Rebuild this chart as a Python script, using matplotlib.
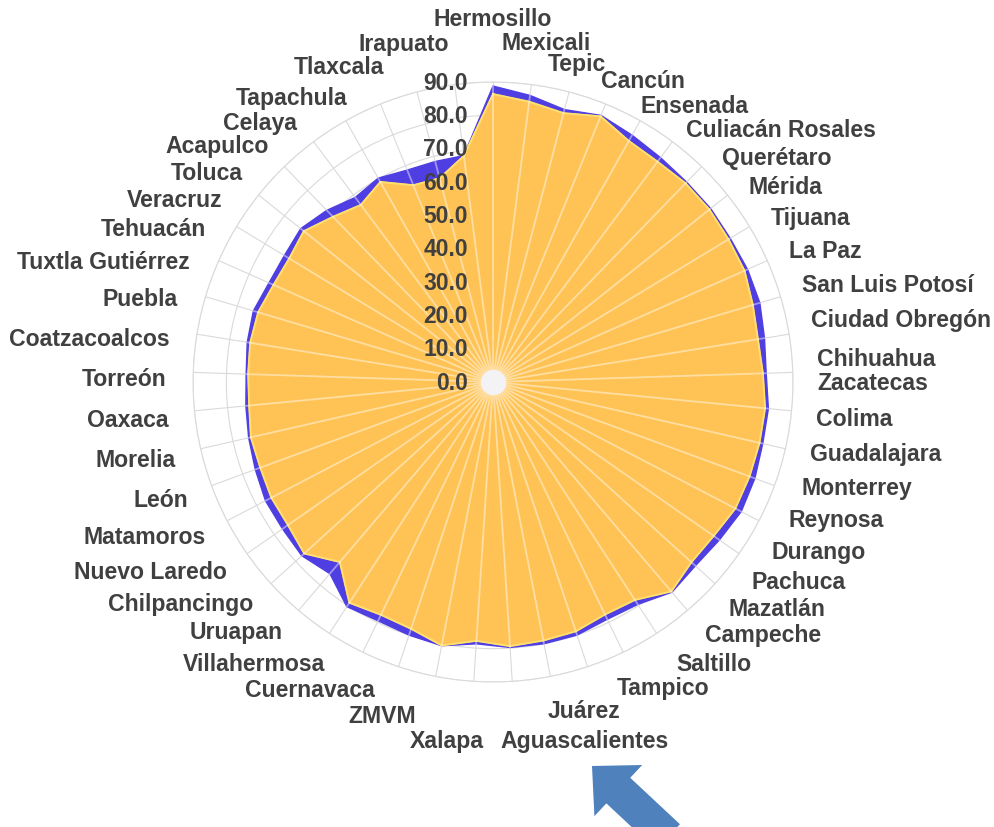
import numpy as np
import matplotlib.pyplot as plt
from matplotlib.patches import FancyArrow

plt.rcParams['font.family'] = ['Liberation Sans', 'DejaVu Sans']

# categorías en el sentido de las agujas del reloj, desde arriba
ciudades = [
    "Hermosillo", "Mexicali", "Tepic", "Cancún", "Ensenada", "Culiacán Rosales",
    "Querétaro", "Mérida", "Tijuana", "La Paz", "San Luis Potosí", "Ciudad Obregón",
    "Chihuahua", "Zacatecas", "Colima", "Guadalajara", "Monterrey", "Reynosa",
    "Durango", "Pachuca", "Mazatlán", "Campeche", "Saltillo", "Tampico", "Juárez",
    "Aguascalientes", "Xalapa", "ZMVM", "Cuernavaca", "Villahermosa", "Uruapan",
    "Chilpancingo", "Nuevo Laredo", "Matamoros", "León", "Morelia", "Oaxaca",
    "Torreón", "Coatzacoalcos", "Puebla", "Tuxtla Gutiérrez", "Tehuacán", "Veracruz",
    "Toluca", "Acapulco", "Celaya", "Tapachula", "Tlaxcala", "Irapuato",
]

# serie de atrás (azul)
serie_azul = [
    88.8, 86.7, 84.5, 86.3, 85.0, 84.0, 83.5, 83.5, 83.2, 83.5, 83.5, 82.5,
    82.0, 83.0, 83.0, 83.7, 84.0, 82.8, 82.0, 82.8, 79.6, 79.0, 80.0, 80.0,
    79.8, 78.7, 80.6, 80.0, 79.5, 80.4, 75.5, 77.5, 77.0, 77.0, 76.0, 75.2,
    74.5, 74.1, 74.7, 75.0, 73.5, 73.2, 73.8, 71.7, 69.1, 70.2, 68.6, 68.4,
    68.5,
]

# serie de adelante (amarilla)
serie_amarilla = [
    86.4, 84.8, 83.4, 86.0, 83.0, 82.5, 83.0, 83.0, 82.6, 82.5, 81.3, 80.5,
    81.0, 82.0, 82.0, 82.0, 82.0, 80.7, 80.4, 82.5, 78.0, 77.4, 78.8, 79.0,
    79.4, 77.8, 80.5, 78.0, 77.5, 79.0, 70.9, 76.5, 75.0, 75.0, 74.4, 74.5,
    73.5, 73.5, 73.8, 73.5, 72.0, 71.5, 72.6, 69.0, 66.3, 68.9, 63.7, 63.2,
    68.4,
]

escala = [0, 10, 20, 30, 40, 50, 60, 70, 80, 90]

GRIS = '#DADADA'
TEXTO = '#404040'
AZUL = '#4F3FE3'
AMARILLO = '#FFC355'

# anillo de etiquetas al estilo Excel: corrimiento angular y radio según el ángulo
anillo_ang = [0, 7.35, 14.7, 22, 29.4, 40, 55, 66, 80, 88, 95.5, 110, 125, 140,
              154, 162, 169, 176.3, 183.7, 191, 198.4, 205.7, 213, 220, 250, 290,
              301, 316, 330.6, 338, 345.3, 352.7, 360]
anillo_lag = [0, 6, 5, 2.4, 1.4, -1.5, -1, 0, 2, 2.2, 5.5, 7.4, 10, 12,
              14.3, 14.7, 11, 5.8, 4.8, 9.6, 5.4, 4.7, 2.2, 0.3, 0.8, 1.7,
              3, 6, 7.6, 5, 4.3, 0, 0]
radio_ang = [0, 7.35, 14.7, 22, 29.4, 40, 60, 150, 162, 169, 176.3, 183.7, 191,
             198.4, 205.7, 220, 330, 338, 345.3, 352.7, 360]
radio_val = [109, 102, 97, 96, 94, 96, 97, 98, 101, 99, 100, 107.7, 107.7,
             102.6, 98.7, 98, 97.8, 95.7, 100, 102.3, 109]

n = len(ciudades)
angulos = np.arange(n) * 2 * np.pi / n


def cerrar(v):
    v = np.asarray(v, dtype=float)
    return np.r_[v, v[:1]]


fig = plt.figure(figsize=(9.94, 8.28), dpi=100)
ax = fig.add_axes([0.1942, 0.1751, 0.6036, 0.7246], projection='polar')
ax.set_theta_zero_location('N')
ax.set_theta_direction(-1)
ax.set_ylim(0, max(escala))
ax.set_xticks(angulos)
ax.set_xticklabels([])
ax.set_yticks(escala)
ax.set_yticklabels([])
ax.grid(color=GRIS, linewidth=0.8)
ax.spines['polar'].set_color(GRIS)
ax.spines['polar'].set_linewidth(0.8)
ax.set_axisbelow(True)

th = cerrar(angulos)
ax.fill(th, cerrar(serie_azul), color=AZUL, zorder=2)
ax.fill(th, cerrar(serie_amarilla), color=AMARILLO, zorder=3)
ax.plot(th, cerrar(serie_amarilla), color='#FFDF6E', linewidth=1.4, zorder=4)

# radios claros encima de las áreas
for a, r in zip(angulos, serie_azul):
    ax.plot([a, a], [0, r], color='white', alpha=0.45, linewidth=1.3, zorder=5)
ax.fill_between(np.linspace(0, 2 * np.pi, 120), 0, 3.6, color='#F3F3F5', zorder=6)

# valores del eje
for v in escala:
    ax.annotate(f"{v:.1f}", xy=(0, v), xytext=(-25, 0), textcoords='offset pixels',
                ha='right', va='center', fontsize=16.5, fontweight='bold',
                color=TEXTO, zorder=7)

# etiquetas de categoría
grados = np.degrees(angulos)
retraso = np.interp(grados, anillo_ang, anillo_lag)
radios = np.interp(grados, radio_ang, radio_val)
for nombre, g, lag, r in zip(ciudades, grados, retraso, radios):
    pos = np.radians(g - lag)
    s = np.sin(pos)
    if abs(s) < 0.01:
        ha = 'center'
    elif s > 0:
        ha = 'left'
    else:
        ha = 'right'
    ax.text(pos, r, nombre, ha=ha, va='center', fontsize=16.6, fontweight='bold',
            color=TEXTO, clip_on=False, zorder=7)

# flecha
capa = fig.add_axes([0, 0, 1, 1], zorder=10)
capa.set_xlim(0, 994)
capa.set_ylim(828, 0)
capa.axis('off')
capa.add_patch(FancyArrow(668, 838, -76, -71, width=35, head_width=70, head_length=36,
                          length_includes_head=True, color='#4F81BD', linewidth=0))

fig.savefig('out.png', dpi=100)
